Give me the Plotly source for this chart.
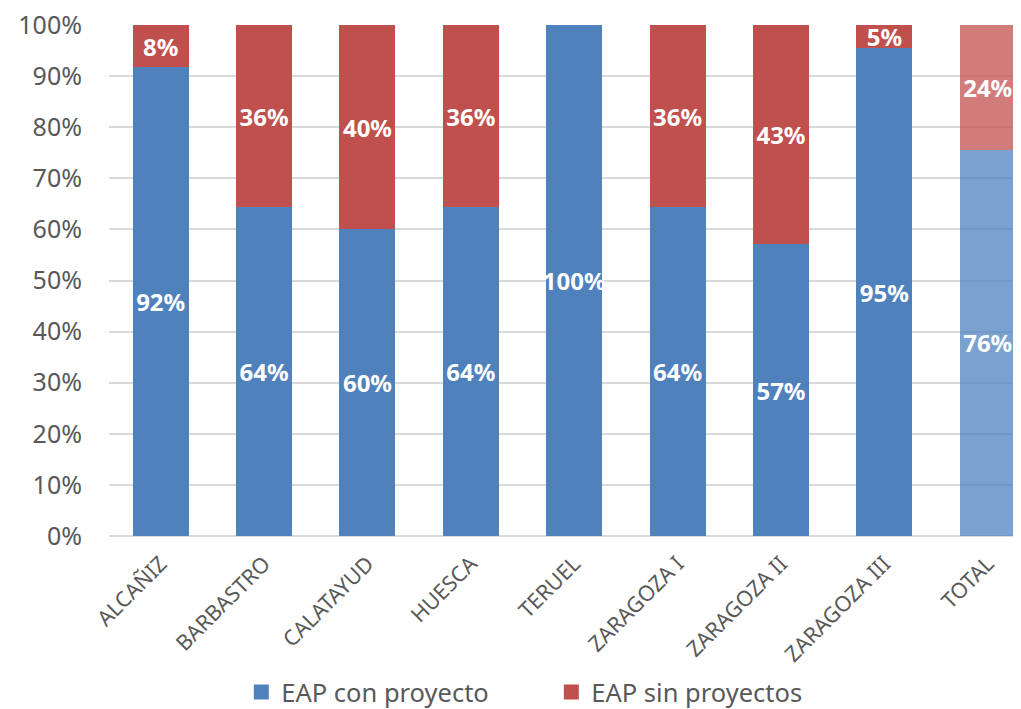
import plotly.graph_objects as go

categories = ["ALCAÑIZ", "BARBASTRO", "CALATAYUD", "HUESCA", "TERUEL",
              "ZARAGOZA I", "ZARAGOZA II", "ZARAGOZA III", "TOTAL"]
con_proyecto = [91.7, 64.3, 60.0, 64.3, 100.0, 64.3, 57.1, 95.45, 75.6]
sin_proyectos = [8.3, 35.7, 40.0, 35.7, 0.0, 35.7, 42.9, 4.55, 24.4]
y_ticks = [0, 10, 20, 30, 40, 50, 60, 70, 80, 90, 100]
series_names = ["EAP con proyecto", "EAP sin proyectos"]

BLUE = "#4F81BD"
RED = "#C0504D"
FONT = "Noto Sans"
GRAY = "#595959"

def labels(vals):
    return [f"{int(v + 0.5)}%" if v > 0 else "" for v in vals]

opac = [1.0] * (len(categories) - 1) + [0.75]

fig = go.Figure()
for vals, name, color in [(con_proyecto, series_names[0], BLUE),
                          (sin_proyectos, series_names[1], RED)]:
    fig.add_trace(go.Bar(
        x=categories, y=vals, name=name, showlegend=False,
        marker=dict(color=color, opacity=opac, line=dict(width=0)),
        text=labels(vals), textposition="inside", textangle=0,
        insidetextanchor="middle", constraintext="none",
        textfont=dict(family=FONT, size=24, color="white", weight="bold"),
        hoverinfo="skip",
    ))
# legend entries with larger square symbols
for name, color in [(series_names[0], BLUE), (series_names[1], RED)]:
    fig.add_trace(go.Scatter(
        x=[None], y=[None], mode="markers", name=name,
        marker=dict(symbol="square", size=15, color=color),
        showlegend=True, hoverinfo="skip",
    ))

# the page body adds an 8px offset; margins compensate for it
fig.update_layout(
    barmode="stack",
    bargap=0.458,
    width=1021, height=709,
    margin=dict(l=101, r=8, t=16.5, b=180.5, autoexpand=False),
    paper_bgcolor="white", plot_bgcolor="white",
    font=dict(family=FONT, color=GRAY),
    showlegend=True,
    legend=dict(
        orientation="h", x=0.485, xanchor="center", y=-0.306, yanchor="middle",
        font=dict(family=FONT, size=25.5, color=GRAY),
        entrywidth=265, entrywidthmode="pixels",
        traceorder="normal", itemsizing="trace",
    ),
    xaxis=dict(
        range=[-0.5, 8.322], tickangle=-45, automargin=False,
        tickfont=dict(family=FONT, size=21.5, color=GRAY),
        showgrid=False, showline=False, ticks="", ticklabelstandoff=10,
        ticklabeloverflow="allow",
    ),
    yaxis=dict(
        range=[0, 100], tickvals=y_ticks, automargin=False,
        ticktext=[f"{v}%" for v in y_ticks],
        tickfont=dict(family=FONT, size=25, color=GRAY),
        showgrid=True, gridcolor="#D9D9D9", gridwidth=1.5,
        zeroline=True, zerolinecolor="#D9D9D9", zerolinewidth=1.5,
        showline=False, ticks="", ticklabelstandoff=26,
        ticklabeloverflow="allow",
    ),
)

fig.write_html("out.html")
